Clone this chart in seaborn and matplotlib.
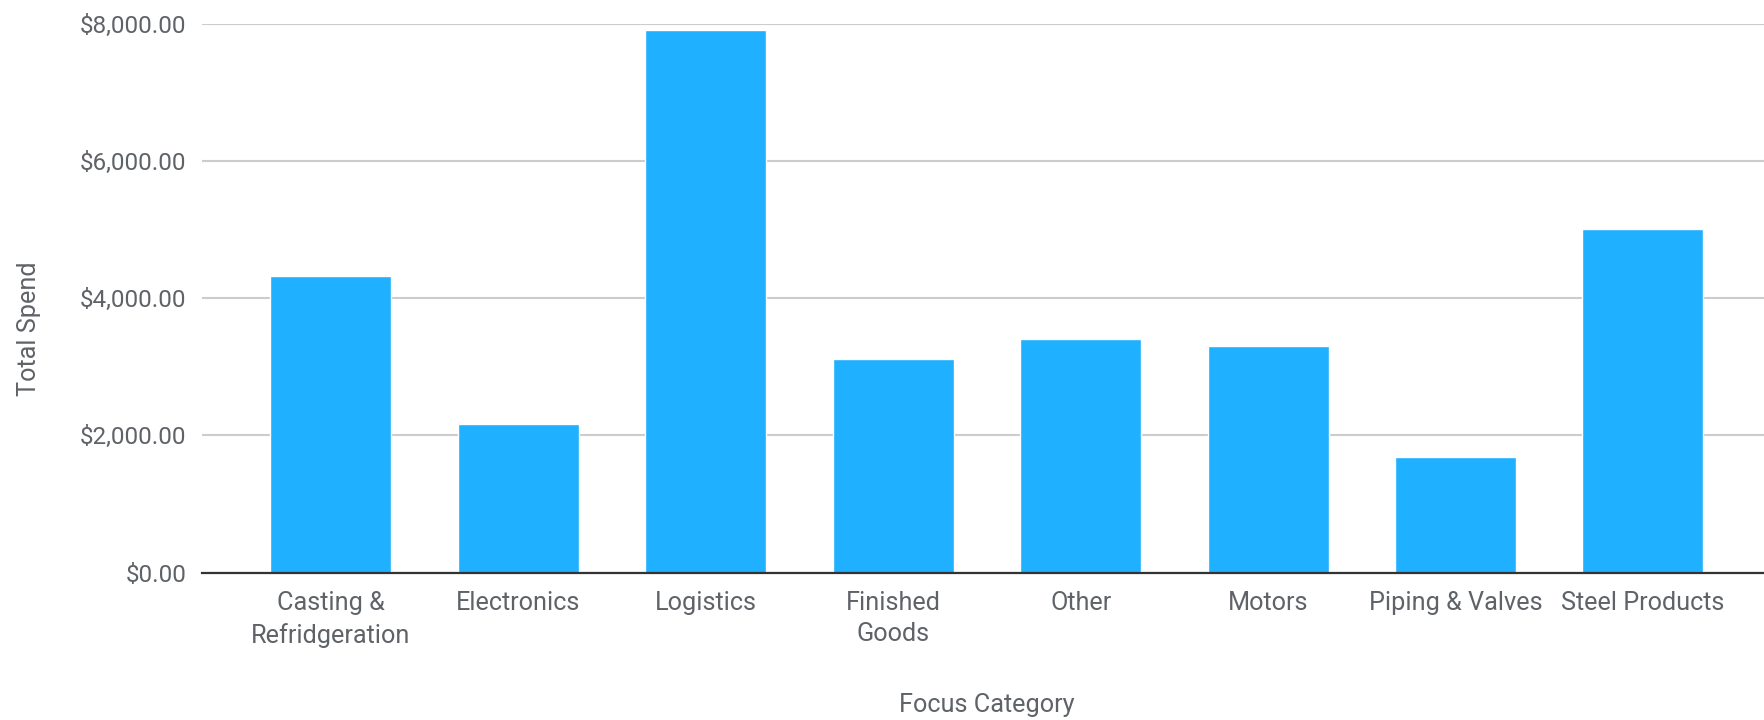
import matplotlib
matplotlib.use("Agg")
import pandas as pd
import seaborn as sns
from matplotlib import pyplot as plt
from matplotlib.ticker import FuncFormatter

categories = ["Casting &\nRefridgeration", "Electronics", "Logistics", "Finished\nGoods",
              "Other", "Motors", "Piping & Valves", "Steel Products"]
total_spend = [4324, 2159, 7906, 3117, 3399, 3306, 1689, 5007]

df = pd.DataFrame({"Focus Category": categories, "Total Spend": total_spend})

sns.set_style("white")
plt.rcParams['font.family'] = ['Roboto', 'DejaVu Sans']
text_col = "#5f6368"
fs = 18.2

fig = plt.figure(figsize=(17.64, 7.2), dpi=100)
ax = fig.add_axes([0.1145, 0.2047, 0.8855, 0.7625])

sns.barplot(data=df, x="Focus Category", y="Total Spend", order=categories,
            color="#1fb0ff", saturation=1, width=0.645, ax=ax)

ax.set_xlim(-0.688, 7.646)
ax.set_ylim(0, 8000)
ax.set_yticks([0, 2000, 4000, 6000, 8000])
ax.yaxis.set_major_formatter(FuncFormatter(lambda v, p: "${:,.2f}".format(v)))
ax.grid(axis="y", color="#cccccc", linewidth=1.5)
ax.set_axisbelow(True)
for s in ["top", "right", "left"]:
    ax.spines[s].set_visible(False)
ax.spines["bottom"].set_color("#333333")
ax.spines["bottom"].set_linewidth(1.6)
ax.spines["bottom"].set_zorder(5)

ax.tick_params(axis="y", length=0, pad=11, labelsize=17.5, labelcolor=text_col)
ax.tick_params(axis="x", length=0, pad=13, labelsize=fs, labelcolor=text_col)
for t in ax.get_xticklabels():
    t.set_linespacing(1.4)

ax.set_ylabel("Total Spend", fontsize=fs, color=text_col, va="center")
ax.set_xlabel("Focus Category", fontsize=fs, color=text_col, va="center")
ax.yaxis.set_label_coords(-0.111, 0.445)
ax.xaxis.set_label_coords(0.5026, -0.241)

fig.savefig("out.png", dpi=100)
